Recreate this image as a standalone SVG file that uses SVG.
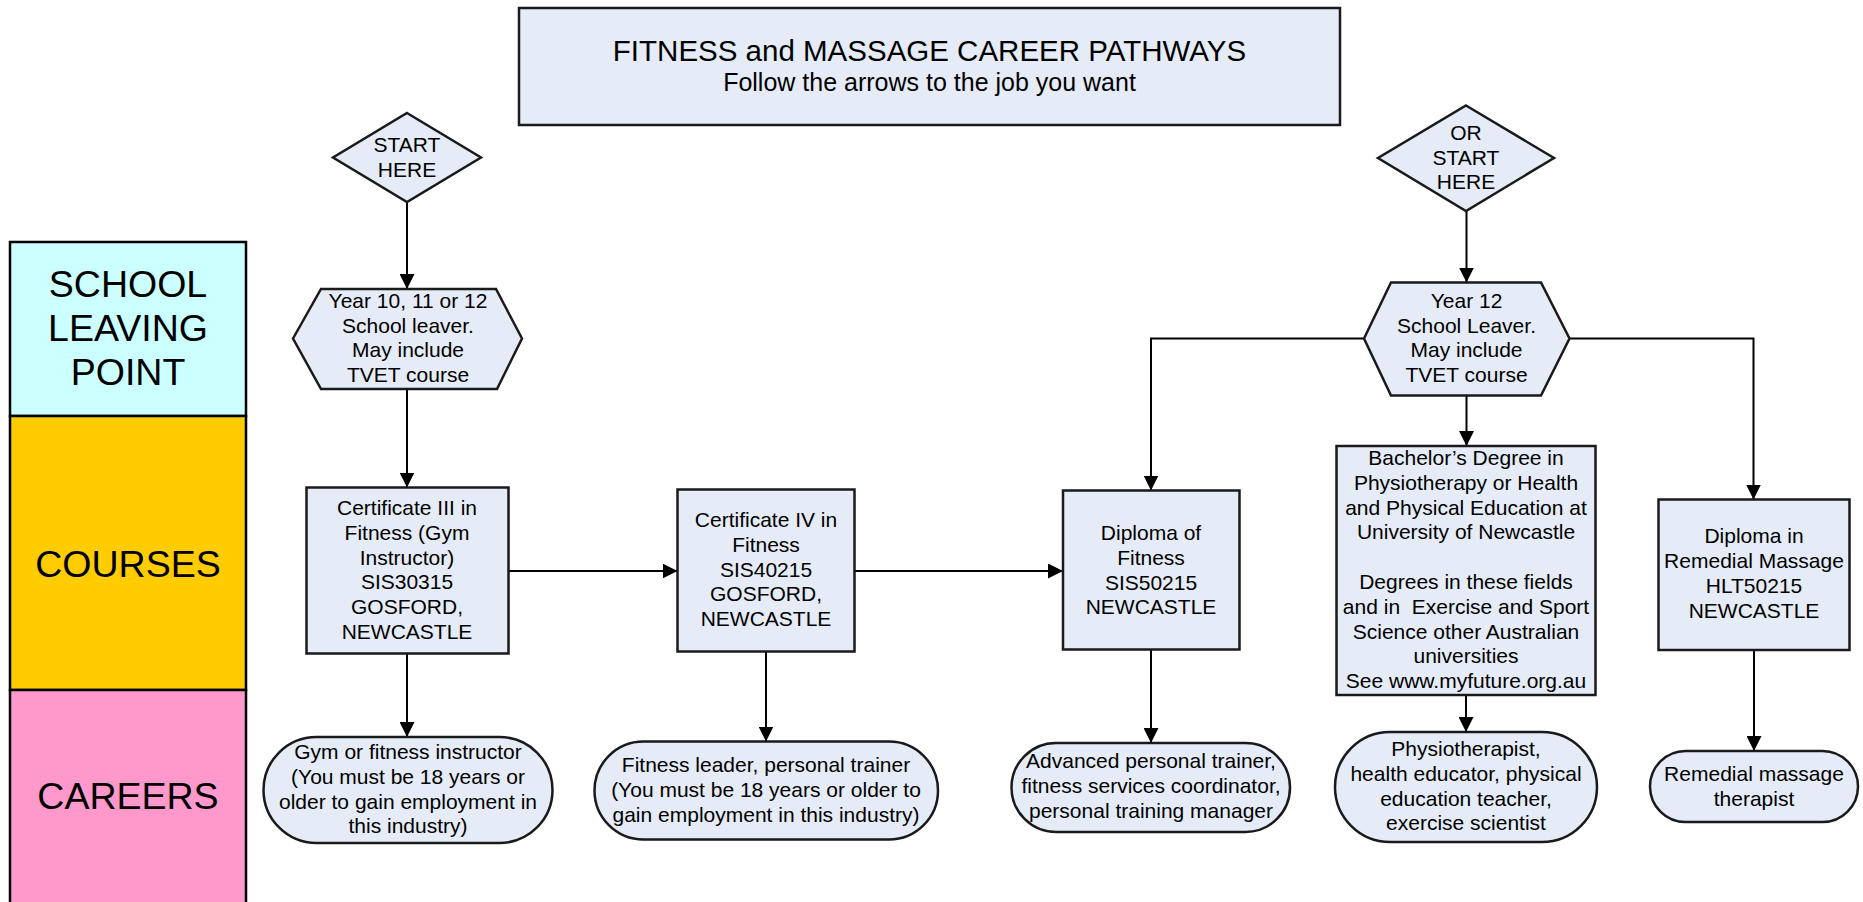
<svg xmlns="http://www.w3.org/2000/svg" width="1863" height="902" viewBox="0 0 1863 902">
<style>
.lane{stroke:#000;stroke-width:2.5}
.node{fill:#E5ECF7;stroke:#1a1a1a;stroke-width:2.5}
.t{font-family:"Liberation Sans",Arial,sans-serif;font-size:21px;fill:#000;text-anchor:middle}
.lt{font-family:"Liberation Sans",Arial,sans-serif;font-size:37.5px;fill:#000;text-anchor:middle}
.conn{fill:none;stroke:#000;stroke-width:2}
</style>
<defs>
<marker id="ah" markerUnits="userSpaceOnUse" viewBox="0 0 15 15" markerWidth="15" markerHeight="15" refX="15" refY="7.5" orient="auto">
<path d="M0,0 L15,7.5 L0,15 z" fill="#000"/>
</marker>
</defs>
<rect width="1863" height="902" fill="#fff"/>

<g id="lane-school">
<rect class="lane" x="10" y="242" width="236" height="174" fill="#CCFFFF"/>
<text class="lt" x="128" y="296.5">SCHOOL</text>
<text class="lt" x="128" y="340.5">LEAVING</text>
<text class="lt" x="128" y="384.5">POINT</text>
</g>
<g id="lane-courses">
<rect class="lane" x="10" y="416" width="236" height="274" fill="#FFCC00"/>
<text class="lt" x="128" y="576.5">COURSES</text>
</g>
<g id="lane-careers">
<rect class="lane" x="10" y="690" width="236" height="216" fill="#FF99CC"/>
<text class="lt" x="128" y="808.5">CAREERS</text>
</g>

<g id="title">
<rect class="node" x="519" y="8" width="821" height="117"/>
<text class="t" x="929.5" y="60.5" style="font-size:29.5px">FITNESS and MASSAGE CAREER PATHWAYS</text>
<text class="t" x="929.5" y="90.7" style="font-size:25px">Follow the arrows to the job you want</text>
</g>

<g id="connectors">
<line class="conn" x1="407" y1="202" x2="407" y2="289" marker-end="url(#ah)"/>
<line class="conn" x1="407" y1="389" x2="407" y2="487.5" marker-end="url(#ah)"/>
<line class="conn" x1="508" y1="571" x2="677.5" y2="571" marker-end="url(#ah)"/>
<line class="conn" x1="855" y1="571" x2="1063" y2="571" marker-end="url(#ah)"/>
<line class="conn" x1="407" y1="653.5" x2="407" y2="737" marker-end="url(#ah)"/>
<line class="conn" x1="766" y1="651.5" x2="766" y2="741.5" marker-end="url(#ah)"/>
<line class="conn" x1="1151" y1="650" x2="1151" y2="743" marker-end="url(#ah)"/>
<line class="conn" x1="1466.5" y1="211" x2="1466.5" y2="282.5" marker-end="url(#ah)"/>
<polyline class="conn" points="1364,338.5 1151,338.5 1151,490.5" marker-end="url(#ah)"/>
<line class="conn" x1="1466.5" y1="395.5" x2="1466.5" y2="446" marker-end="url(#ah)"/>
<polyline class="conn" points="1569.5,338.5 1753.5,338.5 1753.5,499.5" marker-end="url(#ah)"/>
<line class="conn" x1="1466" y1="695" x2="1466" y2="732" marker-end="url(#ah)"/>
<line class="conn" x1="1754" y1="650" x2="1754" y2="751" marker-end="url(#ah)"/>
</g>

<g id="start-left">
<polygon class="node" points="407,113 481,157.5 407,202 333,157.5"/>
<text class="t" x="407" y="152">START</text>
<text class="t" x="407" y="176.5">HERE</text>
</g>

<g id="start-right">
<polygon class="node" points="1466,105.5 1554,158 1466,211 1378,158"/>
<text class="t" x="1466" y="140">OR</text>
<text class="t" x="1466" y="164.5">START</text>
<text class="t" x="1466" y="188.5">HERE</text>
</g>

<g id="leaver-left">
<polygon class="node" points="293,338.5 321,289 496,289 522,338.5 497,389 321,389"/>
<text class="t" x="408" y="307.7">Year 10, 11 or 12</text>
<text class="t" x="408" y="332.5">School leaver.</text>
<text class="t" x="408" y="357.3">May include</text>
<text class="t" x="408" y="382.1">TVET course</text>
</g>

<g id="leaver-right">
<polygon class="node" points="1364,338.5 1391,282.5 1541,282.5 1569.5,338.5 1541,395.5 1391,395.5"/>
<text class="t" x="1466.5" y="307.7">Year 12</text>
<text class="t" x="1466.5" y="332.5">School Leaver.</text>
<text class="t" x="1466.5" y="357.3">May include</text>
<text class="t" x="1466.5" y="382.1">TVET course</text>
</g>

<g id="cert3">
<rect class="node" x="306.5" y="487.5" width="202" height="166"/>
<text class="t" x="407" y="515">Certificate III in</text>
<text class="t" x="407" y="539.8">Fitness (Gym</text>
<text class="t" x="407" y="564.6">Instructor)</text>
<text class="t" x="407" y="589.4">SIS30315</text>
<text class="t" x="407" y="614.2">GOSFORD,</text>
<text class="t" x="407" y="639">NEWCASTLE</text>
</g>

<g id="cert4">
<rect class="node" x="677.5" y="489.5" width="177" height="162"/>
<text class="t" x="766" y="527">Certificate IV in</text>
<text class="t" x="766" y="551.8">Fitness</text>
<text class="t" x="766" y="576.6">SIS40215</text>
<text class="t" x="766" y="601.4">GOSFORD,</text>
<text class="t" x="766" y="626.2">NEWCASTLE</text>
</g>

<g id="diploma-fitness">
<rect class="node" x="1063" y="490.5" width="176.5" height="159"/>
<text class="t" x="1151" y="540">Diploma of</text>
<text class="t" x="1151" y="564.8">Fitness</text>
<text class="t" x="1151" y="589.6">SIS50215</text>
<text class="t" x="1151" y="614.4">NEWCASTLE</text>
</g>

<g id="bachelor">
<rect class="node" x="1336.5" y="446" width="259" height="249"/>
<text class="t" x="1466" y="465">Bachelor’s Degree in</text>
<text class="t" x="1466" y="489.8">Physiotherapy or Health</text>
<text class="t" x="1466" y="514.6">and Physical Education at</text>
<text class="t" x="1466" y="539.4">University of Newcastle</text>
<text class="t" x="1466" y="589">Degrees in these fields</text>
<text class="t" x="1466" y="613.8" style="white-space:pre">and in  Exercise and Sport</text>
<text class="t" x="1466" y="638.6">Science other Australian</text>
<text class="t" x="1466" y="663.4">universities</text>
<text class="t" x="1466" y="688.2">See www.myfuture.org.au</text>
</g>

<g id="diploma-massage">
<rect class="node" x="1658.5" y="499.5" width="191" height="150.5"/>
<text class="t" x="1754" y="543.4">Diploma in</text>
<text class="t" x="1754" y="568.2">Remedial Massage</text>
<text class="t" x="1754" y="593">HLT50215</text>
<text class="t" x="1754" y="617.8">NEWCASTLE</text>
</g>

<g id="career-gym">
<rect class="node" x="263.5" y="737" width="289" height="106" rx="53" ry="53"/>
<text class="t" x="408" y="759">Gym or fitness instructor</text>
<text class="t" x="408" y="783.8">(You must be 18 years or</text>
<text class="t" x="408" y="808.6">older to gain employment in</text>
<text class="t" x="408" y="833.4">this industry)</text>
</g>

<g id="career-leader">
<rect class="node" x="594.5" y="741.5" width="343.5" height="98" rx="49" ry="49"/>
<text class="t" x="766" y="772.4">Fitness leader, personal trainer</text>
<text class="t" x="766" y="797.2">(You must be 18 years or older to</text>
<text class="t" x="766" y="822">gain employment in this industry)</text>
</g>

<g id="career-advanced">
<rect class="node" x="1011.5" y="743" width="278.5" height="89" rx="44.5" ry="44.5"/>
<text class="t" x="1151" y="768.4">Advanced personal trainer,</text>
<text class="t" x="1151" y="793.2">fitness services coordinator,</text>
<text class="t" x="1151" y="818">personal training manager</text>
</g>

<g id="career-physio">
<rect class="node" x="1335" y="732" width="262" height="110" rx="55" ry="55"/>
<text class="t" x="1466" y="756">Physiotherapist,</text>
<text class="t" x="1466" y="780.8">health educator, physical</text>
<text class="t" x="1466" y="805.6">education teacher,</text>
<text class="t" x="1466" y="830.4">exercise scientist</text>
</g>

<g id="career-massage">
<rect class="node" x="1650" y="751" width="208" height="71" rx="35.5" ry="35.5"/>
<text class="t" x="1754" y="780.7">Remedial massage</text>
<text class="t" x="1754" y="805.5">therapist</text>
</g>
</svg>
